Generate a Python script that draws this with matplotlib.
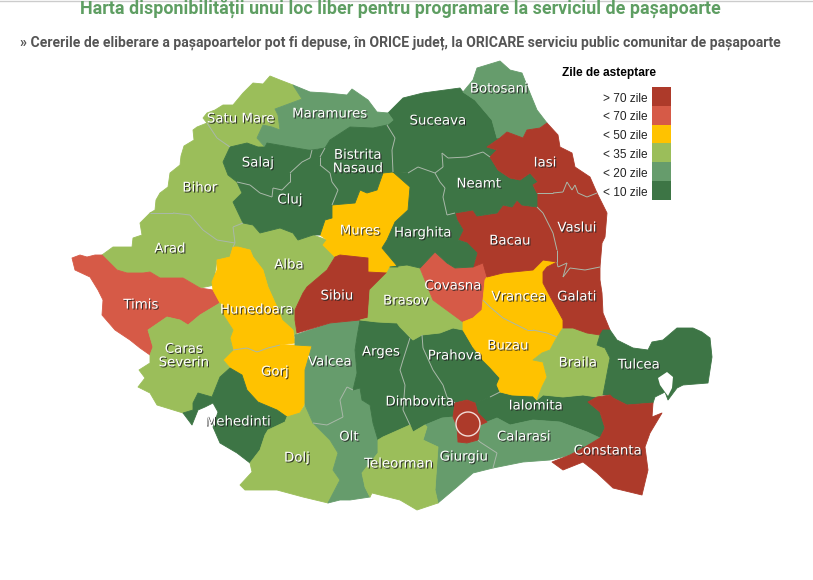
#!/usr/bin/env python3

import matplotlib
matplotlib.use('Agg')
import matplotlib.pyplot as plt
import matplotlib.patheffects as pe
from matplotlib.collections import LineCollection
from matplotlib.patches import Circle, Polygon, Rectangle

TITLE = 'Harta disponibilității unui loc liber pentru programare la serviciul de pașapoarte'
SUBTITLE = '» Cererile de eliberare a pașapoartelor pot fi depuse, în ORICE județ, la ORICARE serviciu public comunitar de pașapoarte'

LEGEND_TITLE = 'Zile de asteptare'
LEGEND_LABELS = ['> 70 zile', '< 70 zile', '< 50 zile', '< 35 zile', '< 20 zile', '< 10 zile']
LEGEND_COLORS = ['#ad3a2a', '#d65a47', '#ffc200', '#9bbe5a', '#669c6c', '#3d7545']

# Wait class of each county: index into the legend
CLASS = {
    'Satu Mare': 3, 'Bihor': 3, 'Arad': 3, 'Alba': 3, 'Caras': 3, 'Dolj': 3, 'Teleorman': 3,
    'Brasov': 3, 'Braila': 3,
    'Maramures': 4, 'Botosani': 4, 'Valcea': 4, 'Olt': 4, 'Giurgiu': 4, 'Calarasi': 4,
    'Salaj': 5, 'Cluj': 5, 'Bistrita': 5, 'Suceava': 5, 'Neamt': 5, 'Harghita': 5, 'Arges': 5,
    'Dimbovita': 5, 'Prahova': 5, 'Ialomita': 5, 'Tulcea': 5, 'Mehedinti': 5,
    'Mures': 2, 'Hunedoara': 2, 'Gorj': 2, 'Vrancea': 2, 'Buzau': 2,
    'Timis': 1, 'Covasna': 1,
    'Sibiu': 0, 'Iasi': 0, 'Vaslui': 0, 'Bacau': 0, 'Galati': 0, 'Constanta': 0, 'Ilfov': 0,
}

# County outlines in pixels
satu_mare = [(207,123),(203,118),(207,113),(215,110),(223,105),(233,105),(243,93),(253,83),(263,84),(270,76),(280,80),(293,85),(302,99),(275,109),(278,115),(280,130),(272,127),(263,125),(257,138),(265,147),(258,147),(247,143),(230,147),(217,138)]
bihor = [(207,123),(197,127),(193,130),(194,140),(184,146),(181,156),(180,165),(170,173),(168,187),(160,193),(156,200),(155,210),(150,213),(173,213),(190,215),(203,230),(217,240),(235,243),(233,227),(243,223),(233,202),(242,193),(237,182),(228,175),(223,162),(230,147),(217,138)]
arad = [(150,213),(140,223),(142,235),(133,238),(132,247),(113,247),(102,255),(117,270),(127,273),(143,273),(150,272),(160,278),(183,278),(200,288),(215,285),(218,280),(215,273),(217,260),(230,257),(233,247),(235,243),(217,240),(203,230),(190,215),(173,213)]
timis = [(72,258),(80,255),(87,257),(95,255),(102,255),(117,270),(127,273),(143,273),(150,272),(160,278),(183,278),(200,288),(213,290),(220,303),(200,315),(188,325),(180,320),(167,317),(148,330),(153,347),(150,355),(140,348),(130,340),(115,330),(102,315),(103,300),(98,290),(90,277),(75,270)]
alba = [(235,243),(233,227),(243,223),(253,225),(260,233),(280,228),(293,233),(298,240),(313,235),(327,240),(323,245),(335,257),(327,270),(307,287),(303,293),(295,310),(295,320),(297,333),(295,337),(293,330),(282,320),(277,307),(268,287),(263,270),(253,257),(250,250),(238,247),(233,247)]
hunedoara = [(238,247),(250,250),(253,257),(263,270),(268,287),(277,307),(282,320),(293,330),(295,343),(280,345),(268,348),(257,352),(247,348),(233,350),(230,338),(233,330),(222,313),(220,303),(213,290),(212,282),(217,270),(217,260),(230,257),(233,247)]
gorj = [(233,350),(223,360),(230,368),(242,375),(247,390),(258,402),(277,410),(287,417),(300,413),(305,403),(305,370),(312,346),(295,345),(280,345),(268,348),(257,352),(247,348)]
caras = [(148,330),(167,317),(180,320),(188,325),(200,315),(220,303),(222,313),(233,330),(230,338),(233,350),(223,360),(230,368),(220,377),(212,397),(198,393),(193,403),(193,410),(183,413),(157,405),(150,393),(138,387),(145,378),(139,370),(150,363),(150,355),(153,347)]
mehedinti = [(230,368),(242,375),(247,390),(258,402),(277,410),(287,417),(285,422),(268,430),(265,435),(260,450),(250,463),(237,453),(220,443),(213,427),(218,412),(213,403),(205,407),(198,410),(192,425),(183,413),(193,410),(193,403),(198,393),(212,397),(220,377)]
dolj = [(287,417),(300,413),(305,405),(313,423),(330,440),(338,453),(333,470),(340,480),(328,503),(303,497),(277,490),(245,490),(240,485),(252,472),(250,463),(260,450),(265,435),(268,430),(285,422)]
valcea = [(295,335),(330,323),(360,320),(357,337),(355,350),(357,373),(353,390),(347,387),(340,400),(343,417),(327,425),(313,423),(305,405),(305,370),(312,346),(295,345)]
olt = [(313,423),(327,425),(343,417),(340,400),(347,387),(353,390),(360,388),(362,400),(370,405),(373,423),(378,440),(378,453),(362,473),(365,487),(370,497),(350,500),(340,500),(328,503),(340,480),(333,470),(338,453),(330,440)]
arges = [(360,320),(377,322),(397,323),(410,338),(403,360),(400,370),(405,385),(403,410),(410,425),(383,437),(378,440),(373,423),(370,405),(362,400),(360,388),(353,390),(357,373),(355,350),(357,337)]
dimbovita = [(410,338),(413,340),(422,335),(423,348),(433,370),(443,385),(447,397),(455,403),(453,417),(442,418),(425,425),(413,432),(410,425),(403,410),(405,385),(400,370),(403,360)]
prahova = [(422,335),(440,333),(453,328),(463,330),(473,347),(483,360),(490,367),(500,378),(497,385),(500,392),(490,397),(478,402),(475,403),(467,400),(455,403),(447,397),(443,385),(433,370),(423,348)]
ilfov = [(455,403),(467,400),(475,403),(478,413),(487,422),(480,425),(478,440),(467,443),(458,442),(457,427),(453,417)]
ialomita = [(500,392),(512,395),(533,396),(537,400),(543,395),(563,397),(583,395),(597,397),(588,402),(600,412),(605,428),(600,438),(587,432),(560,422),(533,420),(510,425),(497,418),(487,422),(478,413),(475,403),(490,397)]
calarasi = [(487,422),(497,418),(510,425),(533,420),(560,422),(587,432),(600,438),(585,447),(570,455),(550,460),(523,462),(493,468),(497,453),(480,442),(478,440),(480,425)]
giurgiu = [(425,425),(442,418),(453,417),(457,427),(458,442),(467,443),(478,440),(480,442),(497,453),(493,468),(473,473),(457,487),(438,503),(435,490),(438,447),(423,440),(427,427)]
teleorman = [(378,440),(383,437),(410,425),(413,432),(425,425),(427,427),(423,440),(438,447),(435,490),(438,503),(417,510),(400,500),(372,493),(370,497),(365,487),(362,473),(378,453)]
mures = [(393,172),(403,173),(410,187),(408,210),(395,222),(387,240),(382,248),(398,267),(390,267),(387,273),(368,272),(368,258),(340,255),(335,257),(323,245),(327,240),(320,235),(325,220),(332,218),(332,205),(355,203),(360,190),(367,193),(377,190),(383,173)]
sibiu = [(335,257),(340,255),(368,258),(368,272),(387,273),(370,290),(368,318),(360,320),(330,323),(297,333),(295,320),(295,310),(303,293),(307,287),(327,270)]
brasov = [(387,273),(390,267),(407,265),(420,268),(433,300),(463,320),(463,330),(453,328),(440,333),(422,335),(413,340),(400,327),(397,323),(377,322),(360,320),(368,318),(370,290)]
covasna = [(420,268),(435,252),(447,263),(455,268),(473,267),(483,263),(487,272),(487,277),(485,280),(483,300),(482,310),(473,318),(463,322),(433,300)]
vrancea = [(487,277),(503,273),(533,270),(543,260),(557,262),(547,267),(543,272),(543,283),(552,300),(563,320),(563,328),(557,337),(547,333),(533,330),(527,330),(503,318),(490,307),(483,300),(485,280)]
buzau = [(483,300),(490,307),(503,318),(527,330),(533,330),(547,333),(557,337),(550,350),(542,353),(533,360),(543,362),(547,377),(542,387),(537,400),(533,396),(512,395),(500,392),(497,385),(500,378),(490,367),(483,360),(473,347),(463,330),(463,322),(473,318),(482,310)]
braila = [(557,337),(563,328),(573,328),(587,333),(600,335),(597,345),(605,348),(610,358),(603,395),(597,397),(583,395),(563,397),(543,395),(537,400),(542,387),(547,377),(543,362),(533,360),(542,353),(550,350)]
galati = [(543,272),(547,267),(557,262),(558,267),(567,263),(563,277),(570,268),(585,270),(600,267),(600,280),(602,293),(603,313),(610,330),(600,335),(587,333),(573,328),(563,328),(563,320),(552,300),(543,283)]
vaslui = [(537,193),(553,193),(563,192),(567,182),(572,190),(575,185),(578,193),(587,197),(597,193),(607,213),(605,237),(602,243),(600,267),(585,270),(570,268),(563,277),(567,263),(558,267),(557,262),(557,250),(553,233),(543,213),(537,207)]
bacau = [(455,213),(473,210),(477,216),(497,213),(503,205),(512,207),(517,200),(522,205),(537,207),(543,213),(553,233),(557,250),(557,262),(543,260),(533,270),(503,273),(487,277),(483,263),(473,267),(477,253),(467,243),(458,240),(463,230),(457,220)]
neamt = [(435,173),(443,167),(442,153),(448,158),(467,157),(483,152),(490,157),(498,170),(510,178),(520,180),(530,173),(538,182),(533,185),(537,193),(537,207),(522,205),(517,200),(512,207),(503,205),(497,213),(477,216),(473,210),(455,213),(447,215),(443,197),(445,188),(440,182)]
suceava = [(388,113),(403,98),(423,93),(460,88),(463,92),(475,100),(492,120),(497,138),(500,138),(487,147),(497,150),(490,157),(483,152),(467,157),(448,158),(442,153),(443,167),(435,173),(418,167),(408,173),(393,172),(392,150),(395,138),(387,125),(393,120)]
harghita = [(393,172),(403,173),(408,173),(418,167),(435,173),(440,182),(445,188),(443,197),(447,215),(455,213),(457,220),(463,230),(458,240),(467,243),(477,253),(473,267),(455,268),(447,263),(435,252),(420,268),(407,265),(390,267),(398,267),(382,248),(387,240),(395,222),(408,210),(410,187)]
botosani = [(463,92),(473,80),(477,68),(500,61),(510,70),(522,73),(530,93),(537,110),(547,123),(540,128),(527,130),(523,138),(507,132),(500,138),(497,138),(492,120),(475,100)]
iasi = [(500,138),(507,132),(523,138),(527,130),(540,128),(547,123),(558,135),(560,147),(572,153),(575,167),(590,177),(597,193),(587,197),(578,193),(575,185),(572,190),(567,182),(563,192),(553,193),(537,193),(533,185),(538,182),(530,173),(520,180),(510,178),(498,170),(490,157),(497,150),(487,147)]
maramures = [(293,85),(310,92),(327,93),(347,95),(352,89),(368,100),(377,112),(388,113),(393,120),(387,125),(373,128),(350,127),(330,140),(325,148),(308,150),(290,147),(267,143),(265,147),(257,138),(263,125),(272,127),(280,130),(278,115),(275,109),(302,99)]
bistrita = [(350,127),(373,128),(387,125),(395,138),(392,150),(393,172),(383,173),(377,190),(367,193),(360,190),(355,203),(332,205),(338,190),(332,182),(330,173),(320,165),(320,157),(325,148),(330,140)]
salaj = [(230,147),(247,143),(258,147),(265,147),(267,143),(290,147),(308,150),(312,150),(310,158),(302,162),(290,173),(290,182),(282,190),(273,188),(272,197),(260,193),(250,185),(237,182),(228,175),(223,162)]
cluj = [(237,182),(250,185),(260,193),(272,197),(273,188),(282,190),(290,182),(290,173),(302,162),(310,158),(312,150),(325,148),(320,157),(320,165),(330,173),(332,182),(338,190),(332,205),(332,218),(325,220),(320,235),(313,235),(298,240),(293,233),(280,228),(260,233),(253,225),(243,223),(233,202),(242,193)]
tulcea = [(600,335),(603,330),(610,330),(617,340),(633,348),(648,350),(652,342),(663,340),(677,328),(693,328),(702,332),(710,338),(712,357),(710,370),(708,383),(683,385),(677,388),(668,400),(665,392),(655,397),(653,403),(627,405),(613,398),(610,395),(603,395),(610,358),(605,348),(597,345)]
lake = [(672,388),(673,377),(667,372),(658,378),(660,385),(665,392),(668,396)]
constanta = [(588,402),(597,397),(610,395),(613,398),(627,405),(653,403),(652,417),(662,413),(650,433),(645,447),(648,470),(642,495),(613,488),(597,473),(583,462),(563,470),(552,462),(570,455),(585,447),(600,438),(605,428),(600,412)]

OUTLINES = {
    'Satu Mare': satu_mare, 'Bihor': bihor, 'Arad': arad, 'Timis': timis, 'Alba': alba,
    'Hunedoara': hunedoara, 'Gorj': gorj, 'Caras': caras, 'Mehedinti': mehedinti, 'Dolj': dolj,
    'Valcea': valcea, 'Olt': olt, 'Arges': arges, 'Dimbovita': dimbovita, 'Prahova': prahova,
    'Ialomita': ialomita, 'Calarasi': calarasi, 'Giurgiu': giurgiu, 'Ilfov': ilfov,
    'Teleorman': teleorman, 'Mures': mures, 'Sibiu': sibiu, 'Brasov': brasov, 'Covasna': covasna,
    'Vrancea': vrancea, 'Buzau': buzau, 'Braila': braila, 'Galati': galati, 'Vaslui': vaslui,
    'Bacau': bacau, 'Neamt': neamt, 'Suceava': suceava, 'Harghita': harghita, 'Botosani': botosani,
    'Iasi': iasi, 'Maramures': maramures, 'Bistrita': bistrita, 'Salaj': salaj, 'Cluj': cluj,
    'Tulcea': tulcea, 'Constanta': constanta,
}

# Label text and where it sits
LABELS = [
    ('Satu Mare', 241, 119), ('Maramures', 330, 114), ('Botosani', 499, 89), ('Suceava', 438, 121),
    ('Salaj', 258, 163), ('Bistrita\nNasaud', 358, 162), ('Iasi', 545, 163), ('Neamt', 479, 184),
    ('Bihor', 200, 188), ('Cluj', 290, 200), ('Mures', 360, 231), ('Harghita', 423, 233),
    ('Vaslui', 577, 228), ('Bacau', 510, 241), ('Arad', 170, 249), ('Alba', 289, 265),
    ('Sibiu', 337, 296), ('Covasna', 453, 286), ('Brasov', 406, 301), ('Vrancea', 519, 297),
    ('Galati', 577, 297), ('Timis', 141, 305), ('Hunedoara', 257, 310), ('Caras\nSeverin', 184, 356),
    ('Arges', 381, 352), ('Prahova', 455, 356), ('Buzau', 508, 346), ('Braila', 578, 363),
    ('Valcea', 330, 362), ('Gorj', 275, 372), ('Tulcea', 639, 365), ('Dimbovita', 420, 402),
    ('Ialomita', 536, 406), ('Mehedinti', 238, 422), ('Olt', 349, 437), ('Calarasi', 524, 437),
    ('Constanta', 608, 451), ('Giurgiu', 464, 457), ('Dolj', 297, 458), ('Teleorman', 399, 464),
]


def shared_borders():
    # Only borders between two counties of one colour show as a line
    seen = {}
    borders = []
    for name, outline in OUTLINES.items():
        for a, b in zip(outline, outline[1:] + outline[:1]):
            key = (min(a, b), max(a, b))
            if key in seen and CLASS[seen[key]] == CLASS[name]:
                borders.append([a, b])
            seen[key] = name
    return borders


def main():
    fig = plt.figure(figsize=(8.13, 5.8), dpi=100)
    ax = fig.add_axes([0, 0, 1, 1])
    ax.set_xlim(0, 813)
    ax.set_ylim(580, 0)
    ax.axis('off')

    ax.axhline(0.5, color='#cccccc', lw=1.0)

    for name, outline in OUTLINES.items():
        color = LEGEND_COLORS[CLASS[name]]
        ax.add_patch(Polygon(outline, closed=True, facecolor=color, edgecolor=color, lw=0.6,
                             joinstyle='round', zorder=2))
    ax.add_collection(LineCollection(shared_borders(), colors='#a9b8a9', linewidths=0.7, zorder=3))
    ax.add_patch(Polygon(lake, closed=True, facecolor='white', edgecolor='none', zorder=4))
    ax.add_patch(Circle((468, 424), 12, facecolor='#ad3a2a', edgecolor='#f2dcd8', lw=1.0, zorder=4))

    shadow = [pe.withSimplePatchShadow(offset=(0.8, -0.8), shadow_rgbFace='#222222', alpha=0.85)]
    for text, x, y in LABELS:
        ax.text(x, y, text, color='white', fontsize=9.6, family='DejaVu Sans', ha='center',
                va='center', linespacing=1.05, zorder=5, path_effects=shadow)

    ax.text(400, 9, TITLE, color='#5e9e62', fontsize=12.9, family='Roboto', fontweight='bold',
            ha='center', va='center')
    ax.text(400, 43, SUBTITLE, color='#555555', fontsize=10.08, family='Roboto', fontweight='bold',
            ha='center', va='center')

    ax.text(609, 73, LEGEND_TITLE, color='black', fontsize=8.55, family='Liberation Sans',
            fontweight='bold', ha='center', va='center')
    for i, (label, color) in enumerate(zip(LEGEND_LABELS, LEGEND_COLORS)):
        y = 87 + i * 18.8
        ax.add_patch(Rectangle((652, y), 19, 18.8, facecolor=color, edgecolor='none'))
        ax.text(648, y + 11.5, label, color='#222222', fontsize=8.6, family='Liberation Sans',
                ha='right', va='center')

    fig.savefig('out.png', dpi=100)


if __name__ == '__main__':
    main()
